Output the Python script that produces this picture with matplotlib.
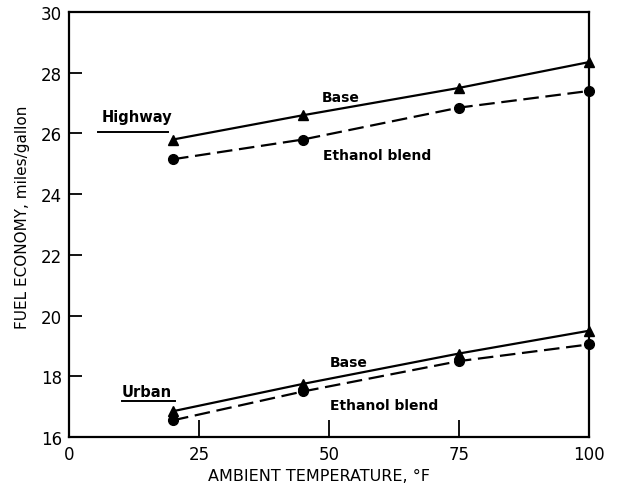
import matplotlib.pyplot as plt

temps = [20, 45, 75, 100]
highway_base = [25.8, 26.6, 27.5, 28.35]
highway_ethanol = [25.15, 25.8, 26.85, 27.4]
urban_base = [16.85, 17.75, 18.75, 19.5]
urban_ethanol = [16.55, 17.5, 18.5, 19.05]

x_ticks = [0, 25, 50, 75, 100]
y_ticks = [16, 18, 20, 22, 24, 26, 28, 30]

plt.rcParams['font.family'] = 'DejaVu Sans'

fig = plt.figure(figsize=(6.24, 4.89), dpi=100)
ax = fig.add_axes([0.1106, 0.1043, 0.8334, 0.8691])

dash = (0, (7, 3))
for base, eth in [(highway_base, highway_ethanol), (urban_base, urban_ethanol)]:
    ax.plot(temps, base, color='black', linewidth=1.6, marker='^', ms=7.5,
            clip_on=False, zorder=3)
    ax.plot(temps, eth, color='black', linewidth=1.6, linestyle=dash,
            marker='o', ms=7, clip_on=False, zorder=3)

ax.set_xlim(0, 100)
ax.set_ylim(16, 30)
ax.set_xticks(x_ticks)
ax.set_xticklabels([str(t) for t in x_ticks], fontsize=12)
ax.set_yticks(y_ticks)
ax.set_yticklabels([str(t) for t in y_ticks], fontsize=12)
ax.tick_params(axis='x', direction='in', length=12.5, width=1.3, pad=6)
ax.tick_params(axis='y', direction='in', length=9, width=1.3, pad=5)
# corner ticks on the x axis are not drawn
for tick in [ax.xaxis.get_major_ticks()[0], ax.xaxis.get_major_ticks()[-1]]:
    tick.tick1line.set_visible(False)
for side in ax.spines.values():
    side.set_linewidth(1.6)

# curve labels
ax.text(6.2, 26.55, 'Highway', fontsize=10.5, fontweight='bold', ha='left', va='center')
ax.plot([5.6, 19.0], [26.05, 26.05], color='black', linewidth=1.4)
ax.text(48.6, 27.2, 'Base', fontsize=10, fontweight='bold', ha='left', va='center')
ax.text(48.8, 25.3, 'Ethanol blend', fontsize=10, fontweight='bold', ha='left', va='center')

ax.text(10.2, 17.5, 'Urban', fontsize=10.5, fontweight='bold', ha='left', va='center')
ax.plot([10.2, 20.4], [17.18, 17.18], color='black', linewidth=1.4)
ax.text(50.2, 18.47, 'Base', fontsize=10, fontweight='bold', ha='left', va='center')
ax.text(50.2, 17.05, 'Ethanol blend', fontsize=10, fontweight='bold', ha='left', va='center')

ax.set_xlabel('AMBIENT TEMPERATURE, °F', fontsize=11.5)
ax.set_ylabel('FUEL ECONOMY, miles/gallon', fontsize=11)
ax.xaxis.set_label_coords(0.48, -0.073)
ax.yaxis.set_label_coords(-0.075, 0.52)

fig.savefig('out.png', dpi=100)
